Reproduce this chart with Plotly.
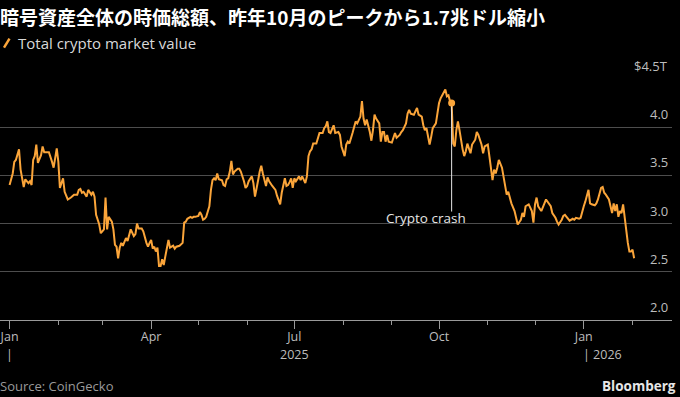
import pandas as pd
import plotly.graph_objects as go

# ---- data ----
days_since_2025_01_01 = [
    0, 2, 3, 4, 6, 7, 9, 10, 12, 13, 14, 15, 16, 17, 18, 20, 21, 22, 24, 25,
    27, 28, 30, 31, 32, 34, 35, 37, 39, 41, 43, 44, 45, 46, 47, 49, 50, 52, 53, 54,
    55, 57, 58, 60, 61, 62, 63, 65, 66, 67, 68, 69, 70, 71, 72, 74, 75, 76, 77, 79,
    80, 81, 82, 84, 85, 87, 88, 89, 90, 91, 92, 93, 94, 95, 96, 97, 98, 99, 100, 101,
    102, 104, 105, 106, 108, 110, 111, 112, 113, 115, 116, 117, 118, 120, 121, 122, 123, 124, 125, 127,
    128, 129, 130, 131, 132, 133, 135, 136, 137, 138, 139, 140, 141, 142, 143, 145, 146, 147, 149, 150,
    151, 152, 154, 155, 156, 157, 158, 159, 160, 161, 162, 163, 164, 165, 167, 168, 169, 170, 171, 172,
    173, 174, 175, 176, 177, 178, 179, 180, 181, 182, 184, 185, 186, 188, 189, 190, 191, 192, 193, 195,
    196, 197, 199, 200, 201, 202, 203, 204, 205, 206, 207, 209, 210, 211, 213, 214, 215, 216, 218, 219,
    220, 221, 223, 224, 225, 226, 227, 229, 230, 231, 232, 233, 235, 236, 237, 238, 239, 240, 241, 243,
    244, 245, 246, 248, 249, 250, 252, 253, 254, 255, 257, 258, 259, 260, 262, 263, 264, 265, 266, 267,
    268, 269, 271, 272, 273, 274, 275, 276, 277, 278, 279, 280, 281, 282, 283, 284, 285, 286, 287, 288,
    289, 290, 291, 292, 293, 294, 296, 297, 298, 300, 301, 302, 304, 305, 306, 307, 308, 309, 310, 311,
    313, 314, 315, 316, 317, 318, 319, 321, 322, 323, 325, 326, 327, 328, 330, 331, 332, 333, 334, 335,
    336, 338, 339, 340, 341, 343, 344, 345, 347, 348, 349, 351, 352, 353, 354, 355, 356, 358, 359, 360,
    362, 363, 364, 365, 366, 367, 368, 369, 370, 372, 373, 374, 375, 376, 377, 378, 379, 381, 382, 383,
    384, 385, 386, 387, 388, 389, 390, 391, 392, 393, 394, 395, 396, 397,
]
market_value_trillion = [
    3.40, 3.52, 3.64, 3.66, 3.77, 3.56, 3.38, 3.46, 3.42, 3.44, 3.40, 3.66, 3.70, 3.82, 3.63, 3.71, 3.80, 3.74, 3.74, 3.74,
    3.64, 3.58, 3.78, 3.64, 3.37, 3.47, 3.33, 3.25, 3.27, 3.30, 3.30, 3.35, 3.36, 3.32, 3.33, 3.28, 3.35, 3.30, 3.33, 3.28,
    3.09, 2.99, 2.90, 2.94, 3.27, 2.94, 3.07, 3.02, 2.94, 2.78, 2.76, 2.64, 2.75, 2.80, 2.77, 2.85, 2.82, 2.89, 2.94, 2.87,
    2.89, 3.00, 2.95, 2.95, 2.92, 2.80, 2.76, 2.80, 2.83, 2.74, 2.76, 2.71, 2.75, 2.56, 2.56, 2.63, 2.57, 2.66, 2.74, 2.83,
    2.75, 2.77, 2.74, 2.76, 2.77, 2.80, 3.01, 3.02, 3.05, 3.07, 3.06, 3.07, 3.07, 3.08, 3.12, 3.09, 3.04, 3.05, 3.07, 3.18,
    3.35, 3.45, 3.47, 3.45, 3.52, 3.46, 3.45, 3.40, 3.39, 3.46, 3.47, 3.54, 3.65, 3.51, 3.54, 3.57, 3.57, 3.54, 3.44, 3.37,
    3.39, 3.44, 3.49, 3.42, 3.28, 3.39, 3.45, 3.54, 3.60, 3.52, 3.44, 3.39, 3.48, 3.44, 3.39, 3.37, 3.35, 3.29, 3.25, 3.20,
    3.32, 3.39, 3.47, 3.39, 3.40, 3.43, 3.47, 3.37, 3.47, 3.44, 3.49, 3.45, 3.49, 3.42, 3.49, 3.70, 3.75, 3.77, 3.83, 3.83,
    3.90, 3.94, 3.94, 3.99, 4.01, 4.06, 3.95, 3.94, 3.98, 4.02, 3.94, 3.95, 3.92, 3.80, 3.70, 3.82, 3.85, 3.83, 3.94, 3.99,
    4.06, 4.04, 4.11, 4.27, 4.09, 4.02, 4.08, 3.95, 3.86, 3.97, 4.13, 4.09, 4.04, 3.85, 3.95, 3.95, 3.85, 3.92, 3.85, 3.84,
    3.90, 3.94, 3.89, 3.92, 3.95, 3.97, 4.04, 4.14, 4.18, 4.14, 4.13, 4.16, 4.20, 4.13, 4.11, 4.02, 3.97, 3.99, 3.89, 3.82,
    3.90, 3.99, 4.04, 4.16, 4.25, 4.30, 4.33, 4.35, 4.39, 4.32, 4.33, 4.27, 4.25, 3.83, 3.80, 3.97, 4.06, 3.97, 3.85, 3.77,
    3.70, 3.75, 3.83, 3.77, 3.73, 3.82, 3.87, 3.95, 3.92, 3.82, 3.73, 3.80, 3.82, 3.70, 3.56, 3.45, 3.56, 3.52, 3.58, 3.66,
    3.58, 3.49, 3.42, 3.30, 3.33, 3.27, 3.21, 3.13, 3.04, 2.99, 3.04, 3.11, 3.07, 3.18, 3.20, 3.16, 3.13, 3.01, 3.20, 3.27,
    3.18, 3.13, 3.18, 3.21, 3.25, 3.20, 3.18, 3.11, 3.06, 3.02, 2.99, 3.04, 3.08, 3.09, 3.07, 3.04, 3.03, 3.05, 3.04, 3.06,
    3.05, 3.06, 3.13, 3.18, 3.23, 3.29, 3.35, 3.21, 3.20, 3.19, 3.21, 3.25, 3.30, 3.37, 3.38, 3.32, 3.30, 3.25, 3.18, 3.11,
    3.21, 3.13, 3.20, 3.07, 3.13, 3.11, 3.20, 3.06, 2.92, 2.80, 2.71, 2.71, 2.73, 2.64,
]
crash_date = "2025-10-09"
crash_value = 4.25
crash_label = "Crypto crash"
crash_label_date = "2025-09-23"
crash_label_value = 3.06
crash_line_bottom = 3.125

y_tick_values = [2.0, 2.5, 3.0, 3.5, 4.0, 4.5]
y_tick_labels = ["2.0", "2.5", "3.0", "3.5", "4.0", "$4.5T"]
x_major_ticks = ["2025-01-01", "2025-04-01", "2025-07-01", "2025-10-01", "2026-01-01"]
x_major_labels = ["Jan", "Apr", "Jul", "Oct", "Jan"]
x_minor_ticks = ["2025-02-01", "2025-03-01", "2025-05-01", "2025-06-01", "2025-08-01",
                 "2025-09-01", "2025-11-01", "2025-12-01", "2026-02-01"]

title_text = "暗号資産全体の時価総額、昨年10月のピークから1.7兆ドル縮小"
legend_text = "Total crypto market value"
source_text = "Source: CoinGecko"
brand_text = "Bloomberg"

# ---- build ----
dates = pd.Timestamp("2025-01-01") + pd.to_timedelta(days_since_2025_01_01, unit="D")

ORANGE = "#fba53a"
BG = "#000000"
GRID = "#4d4d4d"
TXT = "#bdbdbd"
FONT = "'Open Sans', Roboto, sans-serif"

W, H = 680, 397
ML, MR, MT, MB = 0, 8, 79, 76.5
PW = W - ML - MR
PH = H - MT - MB


def px_x(p):
    return (p - ML) / PW


def px_y(p):
    return (H - MB - p) / PH


fig = go.Figure()
fig.add_trace(go.Scatter(
    x=dates, y=market_value_trillion, mode="lines",
    line=dict(color=ORANGE, width=2), hoverinfo="skip", showlegend=False,
))
# crash annotation line + marker
fig.add_trace(go.Scatter(
    x=[crash_date, crash_date], y=[crash_value, crash_line_bottom], mode="lines",
    line=dict(color="#e6e6e6", width=1), hoverinfo="skip", showlegend=False,
))
fig.add_trace(go.Scatter(
    x=[crash_date], y=[crash_value], mode="markers",
    marker=dict(color=ORANGE, size=7), hoverinfo="skip", showlegend=False,
))

annotations = []
annotations.append(dict(
    x=crash_label_date, y=crash_label_value, xref="x", yref="y", text=crash_label,
    showarrow=False, xanchor="center", yanchor="middle",
    font=dict(family=FONT, size=13.5, color="#e6e6e6"),
))
# y tick labels above gridlines at right
for v, lab in zip(y_tick_values, y_tick_labels):
    annotations.append(dict(
        x=px_x(670), y=v, xref="paper", yref="y", text=lab, showarrow=False,
        xanchor="right", yanchor="bottom", yshift=2,
        font=dict(family=FONT, size=13, color=TXT),
    ))
# year row
YR = 355
annotations.append(dict(x="2025-01-01", y=px_y(YR), xref="x", yref="paper", text="|",
                        showarrow=False, xanchor="center", yanchor="middle",
                        font=dict(family=FONT, size=12.5, color=TXT)))
annotations.append(dict(x="2025-07-01", y=px_y(YR), xref="x", yref="paper", text="2025",
                        showarrow=False, xanchor="center", yanchor="middle",
                        font=dict(family=FONT, size=12.5, color=TXT)))
annotations.append(dict(x="2026-01-01", y=px_y(YR), xref="x", yref="paper", text="| 2026",
                        showarrow=False, xanchor="left", yanchor="middle", xshift=-3,
                        font=dict(family=FONT, size=12.5, color=TXT)))
# title, legend, footer
annotations.append(dict(x=px_x(0), y=px_y(16), xref="paper", yref="paper", text="<b>" + title_text + "</b>",
                        showarrow=False, xanchor="left", yanchor="middle", xshift=-2,
                        font=dict(family="'Noto Sans CJK JP', sans-serif", size=19, color="#ffffff")))
annotations.append(dict(x=px_x(16), y=px_y(43), xref="paper", yref="paper", text=legend_text,
                        showarrow=False, xanchor="left", yanchor="middle",
                        font=dict(family=FONT, size=15, color="#d9d9d9")))
annotations.append(dict(x=px_x(0), y=px_y(387), xref="paper", yref="paper", text=source_text,
                        showarrow=False, xanchor="left", yanchor="middle", xshift=-2,
                        font=dict(family=FONT, size=13, color="#9a9a9a")))
annotations.append(dict(x=px_x(678), y=px_y(387), xref="paper", yref="paper", text="<b>" + brand_text + "</b>",
                        showarrow=False, xanchor="right", yanchor="middle",
                        font=dict(family=FONT, size=13.5, color="#e6e6e6")))

shapes = [dict(type="line", xref="paper", yref="paper",
               x0=px_x(4), y0=px_y(47.5), x1=px_x(9.5), y1=px_y(38.5),
               line=dict(color=ORANGE, width=2.5))]

fig.update_layout(
    width=W, height=H, margin=dict(l=ML, r=MR, t=MT, b=MB, pad=0),
    paper_bgcolor=BG, plot_bgcolor=BG,
    annotations=annotations, shapes=shapes,
    xaxis=dict(
        type="date", range=["2024-12-25 22:00", "2026-02-26 02:00"],
        tickmode="array", tickvals=x_major_ticks, ticktext=x_major_labels,
        ticks="outside", ticklen=8, tickwidth=1, tickcolor="#9a9a9a",
        ticklabeloverflow="allow", ticklabelstandoff=-3,
        minor=dict(tickmode="array", tickvals=x_minor_ticks, ticks="outside",
                   ticklen=4, tickwidth=1, tickcolor="#9a9a9a", showgrid=False),
        showgrid=False, showline=True, linecolor="#9a9a9a", linewidth=1,
        zeroline=False, tickfont=dict(family=FONT, size=12.5, color=TXT),
        fixedrange=True,
    ),
    yaxis=dict(
        range=[2.0, 4.5], tickmode="array", tickvals=y_tick_values[1:],
        showticklabels=False, showgrid=True, gridcolor=GRID, gridwidth=1,
        zeroline=False, showline=False, ticks="", fixedrange=True,
    ),
)

fig.write_html("out.html", config={"displayModeBar": False},
               post_script="document.body.style.margin='0';document.body.style.background='#000';")
